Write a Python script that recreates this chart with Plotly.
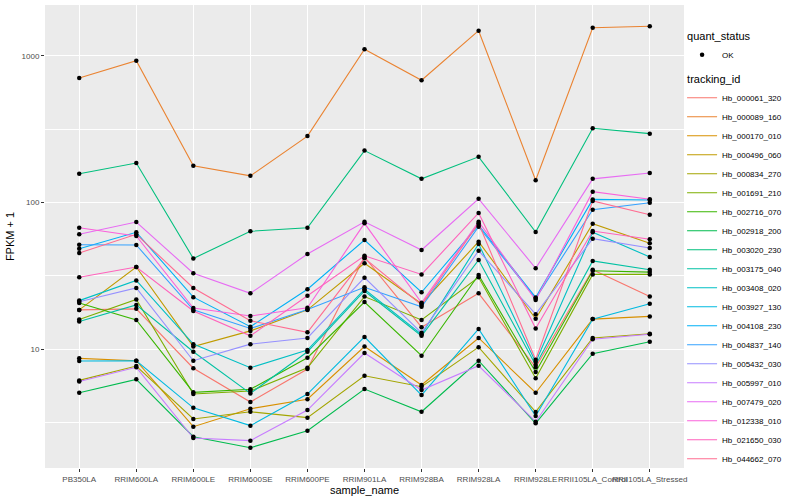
import plotly.graph_objects as go

samples = ["PB350LA", "RRIM600LA", "RRIM600LE", "RRIM600SE", "RRIM600PE", "RRIM901LA",
           "RRIM928BA", "RRIM928LA", "RRIM928LE", "RRII105LA_Control", "RRII105LA_Stressed"]

tracking_ids = ["Hb_000061_320", "Hb_000089_160", "Hb_000170_010", "Hb_000496_060", "Hb_000834_270",
                "Hb_001691_210", "Hb_002716_070", "Hb_002918_200", "Hb_003020_230", "Hb_003175_040",
                "Hb_003408_020", "Hb_003927_130", "Hb_004108_230", "Hb_004837_140", "Hb_005432_030",
                "Hb_005997_010", "Hb_007479_020", "Hb_012338_010", "Hb_021650_030", "Hb_044662_070"]

colors = ["#F8766D", "#EA8331", "#D89000", "#C09B00", "#A3A500", "#7CAE00", "#39B600", "#00BB4E",
          "#00BF7D", "#00C1A3", "#00BFC4", "#00BAE0", "#00B0F6", "#35A2FF", "#9590FF", "#C77CFF",
          "#E76BF3", "#FA62DB", "#FF62BC", "#FF6C91"]

# FPKM + 1 per tracking_id, in sample order
Hb_000061_320 = [18.5, 18.8, 7.4, 4.35, 7.3, 42.5, 14.1, 24.0, 7.5, 34.8, 22.8]
Hb_000089_160 = [708, 929, 178, 152, 284, 1111, 683, 1488, 142, 1560, 1595]
Hb_000170_010 = [8.64, 8.32, 2.95, 3.91, 4.54, 10.4, 5.68, 11.9, 5.03, 16.0, 16.7]
Hb_000496_060 = [18.5, 36.3, 10.4, 13.3, 18.5, 38.5, 20.4, 54.0, 16.1, 71.7, 52.7]
Hb_000834_270 = [6.11, 7.65, 3.33, 3.73, 3.40, 6.57, 5.53, 10.3, 3.72, 11.9, 12.7]
Hb_001691_210 = [15.9, 21.8, 4.93, 5.17, 7.45, 22.8, 15.8, 30.9, 6.31, 32.3, 32.3]
Hb_002716_070 = [20.6, 15.8, 5.06, 5.31, 8.72, 20.9, 9.0, 32.0, 6.97, 34.2, 33.5]
Hb_002918_200 = [5.03, 6.21, 2.52, 2.12, 2.77, 5.33, 3.73, 8.32, 3.11, 9.29, 11.2]
Hb_003020_230 = [157, 186, 41.5, 63.6, 67.3, 226, 145, 205, 62.9, 321, 295]
Hb_003175_040 = [15.4, 20.0, 9.58, 4.98, 9.58, 24.9, 12.3, 40.5, 7.78, 39.9, 34.8]
Hb_003408_020 = [21.4, 29.4, 10.8, 7.45, 9.84, 25.6, 12.6, 52.1, 8.15, 62.6, 42.5]
Hb_003927_130 = [8.28, 8.32, 3.97, 3.00, 4.93, 12.1, 4.85, 13.7, 3.49, 16.0, 20.4]
Hb_004108_230 = [48.4, 62.6, 22.6, 14.2, 25.6, 55.5, 24.4, 70.2, 22.5, 105, 104]
Hb_004837_140 = [51.5, 51.3, 18.5, 13.8, 18.6, 26.4, 19.4, 68.4, 22.1, 89.3, 99.7]
Hb_005432_030 = [21.0, 26.1, 8.32, 10.8, 11.9, 30.7, 12.9, 46.9, 17.3, 56.6, 48.9]
Hb_005997_010 = [6.0, 7.5, 2.47, 2.37, 3.83, 9.39, 5.25, 7.69, 3.19, 11.65, 12.6]
Hb_007479_020 = [60.7, 73.6, 32.9, 24.0, 44.5, 73.9, 47.4, 106, 35.6, 145, 159]
Hb_012338_010 = [67.3, 59.1, 19.05, 16.8, 19.1, 72.1, 20.7, 73.9, 21.6, 118.5, 105.2]
Hb_021650_030 = [30.9, 36.3, 18.2, 12.3, 23.1, 43.3, 32.3, 84.8, 13.8, 63.9, 56.1]
Hb_044662_070 = [45.2, 60.7, 26.1, 15.6, 13.0, 41.6, 20.0, 72.1, 8.45, 102.4, 82.5]

series = [Hb_000061_320, Hb_000089_160, Hb_000170_010, Hb_000496_060, Hb_000834_270,
          Hb_001691_210, Hb_002716_070, Hb_002918_200, Hb_003020_230, Hb_003175_040,
          Hb_003408_020, Hb_003927_130, Hb_004108_230, Hb_004837_140, Hb_005432_030,
          Hb_005997_010, Hb_007479_020, Hb_012338_010, Hb_021650_030, Hb_044662_070]

y_ticks = [10, 100, 1000]
y_tick_labels = ["10", "100", "1000"]

fig = go.Figure()

for i, (tid, vals, col) in enumerate(zip(tracking_ids, series, colors)):
    fig.add_trace(go.Scatter(
        x=samples, y=vals, mode="lines", name=tid,
        line=dict(color=col, width=1.1),
        legendgroup="tracking_id",
        legendgrouptitle=dict(text="tracking_id") if i == 0 else None,
        legendrank=10 + i,
    ))

all_x = [s for _ in series for s in samples]
all_y = [v for vals in series for v in vals]
fig.add_trace(go.Scatter(
    x=all_x, y=all_y, mode="markers", name="OK",
    marker=dict(color="black", size=4.5),
    legendgroup="quant_status",
    legendgrouptitle=dict(text="quant_status"),
    legendrank=1,
))

fig.update_layout(
    width=800, height=500,
    margin=dict(l=45, r=116, t=5, b=32),
    plot_bgcolor="#EBEBEB", paper_bgcolor="white",
    font=dict(family="Liberation Sans, Arial, sans-serif", size=8, color="#4D4D4D"),
    legend=dict(
        x=0.997, y=0.965, xanchor="left", yanchor="top",
        font=dict(size=8, color="black"),
        grouptitlefont=dict(size=11, color="black"),
        tracegroupgap=5, bgcolor="rgba(255,255,255,0)",
    ),
    showlegend=True,
)

fig.update_xaxes(
    type="category", categoryorder="array", categoryarray=samples,
    range=[-0.6, len(samples) - 0.4],
    showgrid=True, gridcolor="white", gridwidth=1.1,
    ticks="outside", ticklen=3, tickcolor="#333333", tickangle=0,
    tickfont=dict(size=8, color="#4D4D4D"),
    zeroline=False, showline=False,
    title=dict(text="sample_name", font=dict(size=11, color="black"), standoff=2),
)

fig.update_yaxes(
    type="log", range=[0.188, 3.348],
    tickvals=y_ticks, ticktext=y_tick_labels,
    showgrid=True, gridcolor="white", gridwidth=1.1,
    minor=dict(tickvals=[10 ** 0.5, 10 ** 1.5, 10 ** 2.5], gridcolor="white", gridwidth=0.5, ticks="", showgrid=True),
    ticks="outside", ticklen=3, tickcolor="#333333",
    tickfont=dict(size=8, color="#4D4D4D"),
    zeroline=False, showline=False,
    title=dict(text="FPKM + 1", font=dict(size=11, color="black"), standoff=4),
)

fig.write_html("out.html", config={"displayModeBar": False},
               post_script="document.body.style.margin='0';")
